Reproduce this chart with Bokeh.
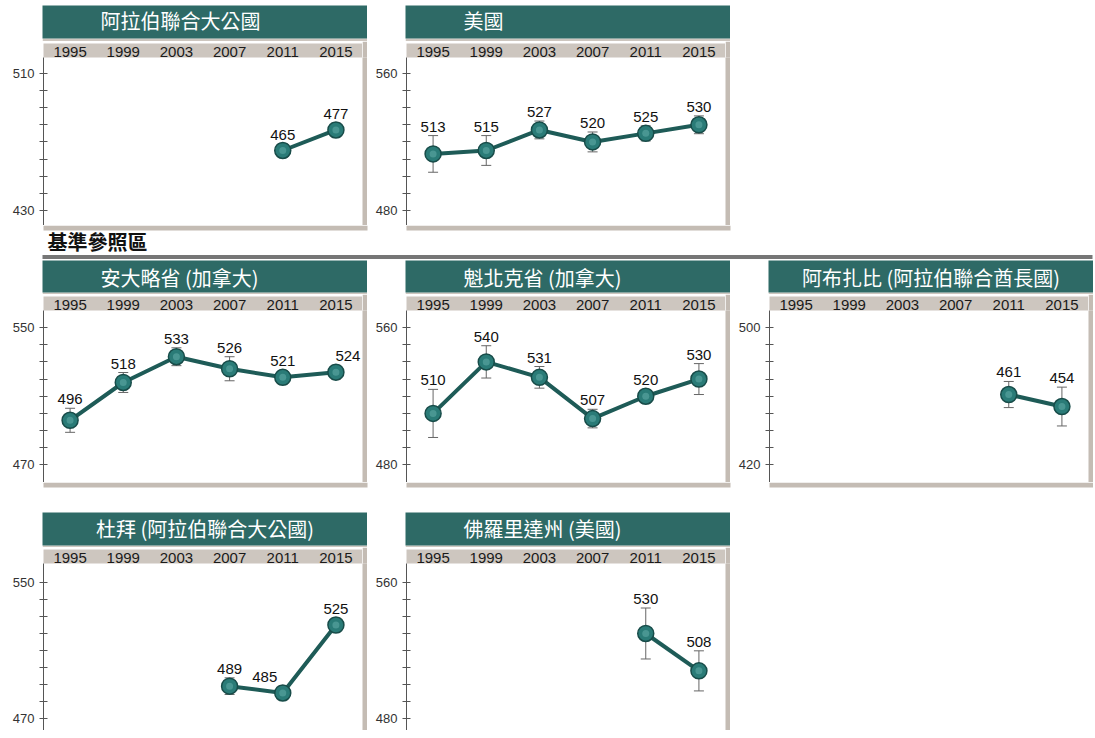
from bokeh.plotting import figure
from bokeh.models import (FactorRange, Range1d, FixedTicker, Whisker, TeeHead,
                          ColumnDataSource, Label, BoxAnnotation, Spacer)
from bokeh.layouts import row, column
from bokeh.embed import file_html
from bokeh.resources import INLINE
from bokeh.core.properties import value

# ---------------- data ----------------
YEARS = ["1995", "1999", "2003", "2007", "2011", "2015"]

uae_title = "阿拉伯聯合大公國"
uae_years = ["2011", "2015"]
uae_scores = [465, 477]
uae_err = [4, 4]
uae_ticks = [430, 510]

us_title = "美國"
us_years = ["1995", "1999", "2003", "2007", "2011", "2015"]
us_scores = [513, 515, 527, 520, 525, 530]
us_err = [10.7, 8.7, 5.2, 5.8, 4.4, 5.2]
us_ticks = [480, 560]

ont_title = "安大略省 (加拿大)"
ont_years = ["1995", "1999", "2003", "2007", "2011", "2015"]
ont_scores = [496, 518, 533, 526, 521, 524]
ont_err = [7, 5.8, 5.2, 7, 4, 4]
ont_ticks = [470, 550]

que_title = "魁北克省 (加拿大)"
que_years = ["1995", "1999", "2003", "2007", "2011", "2015"]
que_scores = [510, 540, 531, 507, 520, 530]
que_err = [14, 9.4, 6.3, 5.4, 4, 9]
que_ticks = [480, 560]

abu_title = "阿布扎比 (阿拉伯聯合酋長國)"
abu_years = ["2011", "2015"]
abu_scores = [461, 454]
abu_err = [7.6, 11.3]
abu_ticks = [420, 500]

dub_title = "杜拜 (阿拉伯聯合大公國)"
dub_years = ["2007", "2011", "2015"]
dub_scores = [489, 485, 525]
dub_err = [4.9, 4, 4]
dub_ticks = [470, 550]

fla_title = "佛羅里達州 (美國)"
fla_years = ["2011", "2015"]
fla_scores = [530, 508]
fla_err = [15, 11.8]
fla_ticks = [480, 560]

SECTION_TITLE = "基準參照區"

# ---------------- styles / layout ----------------
TEAL = "#2e6a66"
BAND = "#cdc6bf"
SHADOW = "#c4bcb4"
LINE_C = "#1e5b57"
MARK_FILL = "#2a7b77"
MARK_LINE = "#184c49"
MARK_HI = "#6fb8b3"
NUM_FONT = "Liberation Sans"
CJK_FONT = "Noto Sans CJK TC"

X0 = 4            # left offset of first panel
PITCH = 363       # panel pitch
LEFT = 39         # space for y axis
FRAME_W = 319
STRIP = 5
BAND_H = 16       # year axis height in main figure
TOTAL_W = X0 + 3 * PITCH

# per row: (pad_top, pad_bottom, frame_h, header_h, header_text_y, band_extra)
ROW1 = (9.3, 8.8, 168, 33, 15, 3)
ROW2 = (9.9, 10.2, 172, 32, 16.5, 2)
ROW3 = (11.2, 7.1, 167, 33, 16, 2)


def block(w, h, color):
    f = figure(width=w, height=h, min_border=0, x_axis_type=None, y_axis_type=None,
               background_fill_color=color, border_fill_color=color,
               outline_line_color=None, toolbar_location=None, output_backend="svg")
    return f


def make_panel(title, years, scores, errs, ticks, cfg, title_x=58, label_dx=None):
    pad_top, pad_bot, frame_h, head_h, head_y, band_extra = cfg
    lo_t, hi_t = ticks
    if label_dx is None:
        label_dx = [0] * len(years)
    src = ColumnDataSource(dict(
        x=years, y=scores,
        up=[s + e for s, e in zip(scores, errs)],
        low=[s - e for s, e in zip(scores, errs)],
        lbl=[str(s) for s in scores],
        dx=label_dx,
    ))

    # header (teal) with the top of the year band as its bottom border
    hw = FRAME_W + 1 + STRIP
    h = figure(width=hw, height=head_h + band_extra, min_border=0,
               min_border_bottom=band_extra,
               x_range=Range1d(0, hw), y_range=Range1d(head_h, 0),
               x_axis_type=None, y_axis_type=None,
               background_fill_color=TEAL, border_fill_color=BAND,
               outline_line_color=None, toolbar_location=None, output_backend="svg")
    if title_x is None:
        h.add_layout(Label(x=hw / 2, y=head_y, text=title,
                           text_align="center", text_baseline="middle",
                           text_color="white", text_font_size="20px", text_font=CJK_FONT))
    else:
        h.add_layout(Label(x=title_x, y=head_y, text=title,
                           text_align="left", text_baseline="middle",
                           text_color="white", text_font_size="20px", text_font=CJK_FONT))

    # main plot
    p = figure(x_range=FactorRange(*YEARS, range_padding=0),
               y_range=Range1d(lo_t - pad_bot, hi_t + pad_top),
               width=LEFT + FRAME_W, height=BAND_H + frame_h,
               min_border_left=LEFT, min_border_right=0,
               min_border_top=BAND_H, min_border_bottom=0,
               x_axis_location="above",
               background_fill_color="white", border_fill_color="white",
               outline_line_color=None, toolbar_location=None, output_backend="svg")
    p.grid.visible = False

    xa = p.xaxis[0]
    xa.axis_line_color = None
    xa.major_tick_line_color = None
    xa.major_tick_in = 0
    xa.major_tick_out = 0
    xa.major_label_standoff = 1
    xa.major_label_text_font = NUM_FONT
    xa.major_label_text_font_size = "15px"
    xa.major_label_text_color = "#1a1a1a"
    xa.background_fill_color = BAND

    ya = p.yaxis[0]
    ya.ticker = FixedTicker(ticks=[lo_t, hi_t], minor_ticks=list(range(lo_t + 10, hi_t, 10)))
    ya.axis_line_color = "#555555"
    ya.major_tick_line_color = "#555555"
    ya.minor_tick_line_color = "#555555"
    ya.major_tick_in = 4
    ya.major_tick_out = 4
    ya.minor_tick_in = 4
    ya.minor_tick_out = 4
    ya.major_label_standoff = 5
    ya.major_label_text_font = NUM_FONT
    ya.major_label_text_font_size = "13px"
    ya.major_label_text_color = "#333333"

    p.add_layout(Whisker(source=src, base="x", upper="up", lower="low", dimension="height",
                         line_color="#666666", line_width=1,
                         upper_head=TeeHead(size=10, line_color="#666666", line_width=1),
                         lower_head=TeeHead(size=10, line_color="#666666", line_width=1)))
    p.line("x", "y", source=src, line_color=LINE_C, line_width=4)
    p.scatter("x", "y", source=src, size=16, fill_color=MARK_FILL,
              line_color=MARK_LINE, line_width=1.5)
    p.scatter("x", "y", source=src, size=7, fill_color=MARK_HI, fill_alpha=0.45,
              line_color=None)
    p.text("x", "up", text="lbl", source=src, x_offset="dx", y_offset=-4,
           text_align="center", text_baseline="bottom",
           text_font=value(NUM_FONT), text_font_size="15px", text_color="#111111")

    right = block(STRIP, BAND_H + frame_h, SHADOW)
    return column(row(Spacer(width=LEFT - 1), h), row(p, right))


def separator(height, n_panels, with_section=False):
    f = figure(width=TOTAL_W, height=height, min_border=0,
               x_range=Range1d(0, TOTAL_W), y_range=Range1d(height, 0),
               x_axis_type=None, y_axis_type=None, outline_line_color=None,
               background_fill_color="white", border_fill_color="white",
               toolbar_location=None, output_backend="svg")
    for k in range(n_panels):
        left = X0 + LEFT + k * PITCH
        f.add_layout(BoxAnnotation(left=left, right=left + FRAME_W + STRIP, top=0, bottom=STRIP,
                                   fill_color=SHADOW, fill_alpha=1, line_color=None))
    if with_section:
        f.add_layout(Label(x=47, y=16, text=SECTION_TITLE, text_align="left",
                           text_baseline="middle", text_font=CJK_FONT, text_font_size="20px",
                           text_font_style="bold", text_color="#111111"))
        f.add_layout(BoxAnnotation(left=X0 + LEFT - 1, right=TOTAL_W - 1, top=29.5, bottom=33.5,
                                   fill_color="#767676", fill_alpha=1, line_color=None))
    return f


pan_uae = make_panel(uae_title, uae_years, uae_scores, uae_err, uae_ticks, ROW1)
pan_us = make_panel(us_title, us_years, us_scores, us_err, us_ticks, ROW1)
pan_ont = make_panel(ont_title, ont_years, ont_scores, ont_err, ont_ticks, ROW2,
                     label_dx=[0, 0, 0, 0, 0, 12])
pan_que = make_panel(que_title, que_years, que_scores, que_err, que_ticks, ROW2)
pan_abu = make_panel(abu_title, abu_years, abu_scores, abu_err, abu_ticks, ROW2, title_x=None)
pan_dub = make_panel(dub_title, dub_years, dub_scores, dub_err, dub_ticks, ROW3,
                     title_x=None, label_dx=[0, -18, 0])
pan_fla = make_panel(fla_title, fla_years, fla_scores, fla_err, fla_ticks, ROW3)

lay = column(
    Spacer(height=5),
    row(Spacer(width=X0), pan_uae, pan_us),
    separator(35, 2, with_section=True),
    row(Spacer(width=X0), pan_ont, pan_que, pan_abu),
    separator(30, 3),
    row(Spacer(width=X0), pan_dub, pan_fla),
    separator(5, 2),
)

open("out.html", "w").write(file_html(lay, INLINE))
